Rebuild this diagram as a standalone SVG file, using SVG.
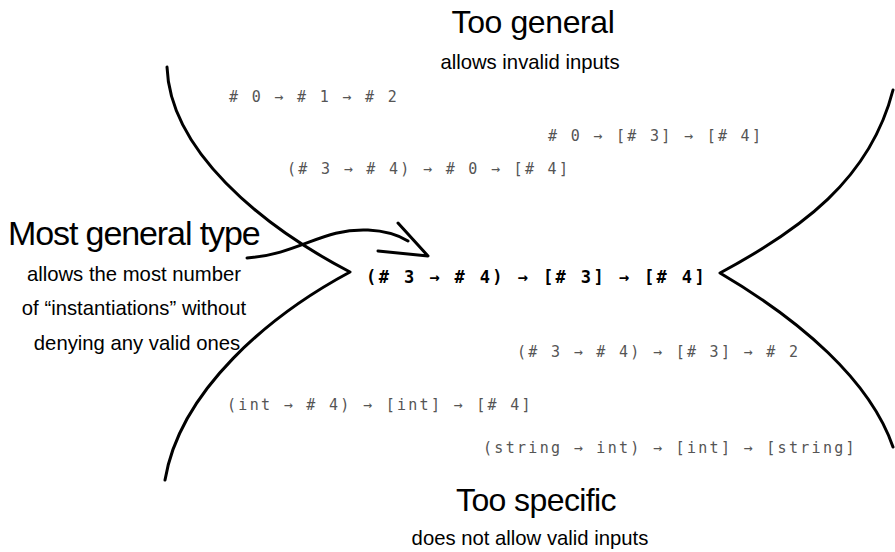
<svg xmlns="http://www.w3.org/2000/svg" width="895" height="552" viewBox="0 0 895 552">
<style>
.title{font-family:"Liberation Sans",Arial,sans-serif;fill:#000;}
.sub{font-family:"Liberation Sans",Arial,sans-serif;font-size:20.3px;fill:#000;text-anchor:middle;}
.code{font-family:"DejaVu Sans Mono","Liberation Mono",monospace;font-size:15px;fill:#555;letter-spacing:2.3px;}
.main{font-family:"DejaVu Sans Mono","Liberation Mono",monospace;font-size:17px;font-weight:bold;fill:#000;letter-spacing:2.4px;}
.curve{fill:none;stroke:#000;stroke-width:3;stroke-linecap:round;stroke-linejoin:round;}
</style>
<rect width="895" height="552" fill="#fff"/>
<g id="boundary">
<path class="curve" d="M167,67 C170,150 260,225 350,272 C270,315 180,390 165,480"/>
<path class="curve" d="M893,90 C870,180 800,230 720,273 C800,320 870,380 893,447"/>
</g>
<g id="too-general">
<text class="title" x="533" y="33" font-size="32" text-anchor="middle" letter-spacing="-0.4">Too general</text>
<text class="sub" x="530" y="69" font-size="19">allows invalid inputs</text>
</g>
<g id="too-specific">
<text class="title" x="536" y="511" font-size="32" text-anchor="middle" letter-spacing="-0.6">Too specific</text>
<text class="sub" x="530" y="545" font-size="19">does not allow valid inputs</text>
</g>
<g id="most-general">
<text class="title" x="8" y="245" font-size="34" letter-spacing="-1.1">Most general type</text>
<text class="sub" x="134" y="281">allows the most number</text>
<text class="sub" x="134" y="315">of “instantiations” without</text>
<text class="sub" x="137" y="350">denying any valid ones</text>
</g>
<g id="types-general">
<text class="code" x="229" y="102"># 0 → # 1 → # 2</text>
<text class="code" x="548" y="141"># 0 → [# 3] → [# 4]</text>
<text class="code" x="287" y="174">(# 3 → # 4) → # 0 → [# 4]</text>
</g>
<g id="type-best">
<text class="main" x="366" y="283">(# 3 → # 4) → [# 3] → [# 4]</text>
</g>
<g id="types-specific">
<text class="code" x="517" y="357">(# 3 → # 4) → [# 3] → # 2</text>
<text class="code" x="227" y="410">(int → # 4) → [int] → [# 4]</text>
<text class="code" x="483" y="453">(string → int) → [int] → [string]</text>
</g>
<g id="connectors">
<path class="curve" d="M247,258 C300,254 322,228 368,230 C388,231 400,236 408,241"/>
<path class="curve" d="M398,223 L428,256 L378,251"/>
</g>
</svg>
